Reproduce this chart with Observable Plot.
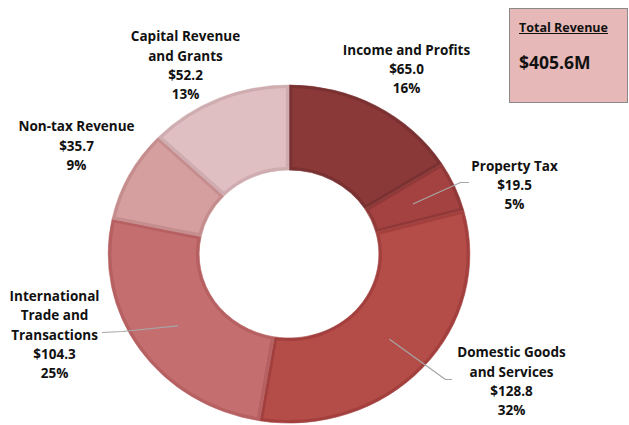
<!DOCTYPE html>
<html>
<head>
<meta charset="utf-8">
<script src="https://cdn.jsdelivr.net/npm/d3@7"></script>
<script src="https://cdn.jsdelivr.net/npm/@observablehq/plot@0.6"></script>
<style>
  html, body { margin: 0; padding: 0; background: #fff; }
  #wrap { position: relative; width: 629px; height: 425px; font-family: "Open Sans", Lato, sans-serif; }
  #box { position: absolute; left: 509px; top: 8px; width: 117px; height: 93px; background: #E6B8B7; border: 1.5px solid #8a8a8a; box-sizing: content-box; }
  #box .t1 { position: absolute; left: 9px; top: 10px; font-size: 12.5px; font-weight: bold; text-decoration: underline; color: #111; }
  #box .t2 { position: absolute; left: 9px; top: 41px; font-size: 17.5px; font-weight: bold; color: #111; }
</style>
</head>
<body>
<div id="wrap">
  <div id="chart"></div>
  <div id="box"><div class="t1">Total Revenue</div><div class="t2">$405.6M</div></div>
</div>
<script>
// ---- data ----
const categories = ["Income and Profits", "Property Tax", "Domestic Goods and Services", "International Trade and Transactions", "Non-tax Revenue", "Capital Revenue and Grants"];
const labelNames = ["Income and Profits", "Property Tax", "Domestic Goods\nand Services", "International\nTrade and\nTransactions", "Non-tax Revenue", "Capital Revenue\nand Grants"];
const values = [65.0, 19.5, 128.8, 104.3, 35.7, 52.2];
const percents = ["16%", "5%", "32%", "25%", "9%", "13%"];
const total = "$405.6M";

// ---- styling / layout ----
const fills = ["#8B3838", "#A44241", "#B44C48", "#C46E70", "#D59E9F", "#E0BFC2"];
const borders = ["#7A3131", "#913838", "#A3403E", "#B66062", "#C68D8E", "#CEACAF"];
const cx = 289, cy = 254, rOuter = 169, rInner = 84, sx = 1.07;
const labelPos = [[406, 67.5], [514, 183.5], [511, 379.5], [54, 333], [76, 144], [185, 63.5]];
const leaderEnds = {1: [[460, 182], [468, 182]], 2: [[445, 379], [451, 379]], 3: [[122, 331], [102, 332]]};

const data = categories.map((c, i) => ({
  category: c, value: values[i], pct: percents[i], fill: fills[i], border: borders[i],
  label: `${labelNames[i]}\n$${values[i].toFixed(1)}\n${percents[i]}`,
  lx: labelPos[i][0], ly: labelPos[i][1]
}));

const pie = d3.pie().sort(null).value(d => d.value)(data);
const arcOuter = d3.arc().innerRadius(rInner).outerRadius(rOuter);
const arcInset = d3.arc().innerRadius(rInner + 3).outerRadius(rOuter - 3).padAngle(6 / 126).padRadius(126);

// leader lines start at slice centroids
const leaders = [];
Object.entries(leaderEnds).forEach(([k, pts]) => {
  const a = pie[+k];
  const [px, py] = arcOuter.centroid(a);
  leaders.push({key: k, x: cx + px * sx, y: cy + py});
  pts.forEach(p => leaders.push({key: k, x: p[0], y: p[1]}));
});

function donut(index, scales, values, dimensions, context) {
  const g = d3.create("svg:g").attr("transform", `translate(${cx},${cy}) scale(${sx},1)`);
  g.selectAll("path.o").data(pie).join("path").attr("class", "o")
    .attr("d", arcOuter).attr("fill", d => d.data.border)
    .attr("stroke", d => d.data.border).attr("stroke-width", 0.6);
  g.selectAll("path.i").data(pie).join("path").attr("class", "i")
    .attr("d", arcInset).attr("fill", d => d.data.fill);
  return g.node();
}

const chart = Plot.plot({
  width: 629,
  height: 425,
  margin: 0,
  x: {type: "identity", axis: null},
  y: {type: "identity", axis: null},
  style: {fontFamily: "'Open Sans', Lato, sans-serif", background: "transparent"},
  marks: [
    donut,
    Plot.line(leaders, {x: "x", y: "y", z: "key", stroke: "#a6a6a6", strokeWidth: 1.2}),
    Plot.text(data, {x: "lx", y: "ly", text: "label", fontSize: 13.5, fontWeight: "bold", fill: "#111", lineHeight: 1.43, textAnchor: "middle", lineAnchor: "middle"})
  ]
});
document.getElementById("chart").appendChild(chart);
</script>
</body>
</html>
